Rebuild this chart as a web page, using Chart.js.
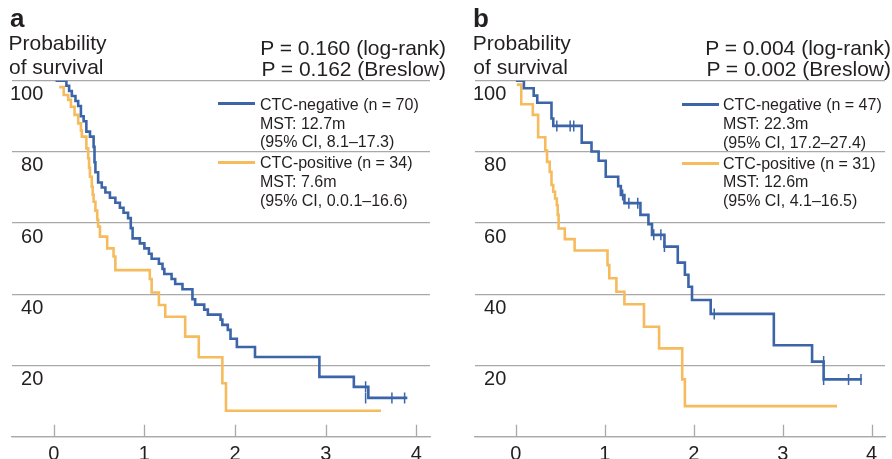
<!DOCTYPE html>
<html>
<head>
<meta charset="utf-8">
<script src="https://cdn.jsdelivr.net/npm/chart.js@4.4.1/dist/chart.umd.min.js"></script>
<style>
html,body{margin:0;padding:0;width:892px;height:459px;overflow:hidden;background:#fff;}
body{font-family:"Liberation Sans",Arial,Helvetica,sans-serif;color:#231f20;}
.panel{position:absolute;top:0;height:459px;}
#pa{left:0;width:446px;}
#pb{left:463px;width:429px;}
.panel canvas{position:absolute;left:0;top:0;}
.t{position:absolute;white-space:nowrap;line-height:1;}
.lab{font-weight:bold;font-size:26px;}
.ylab{font-size:21px;}
.pv{font-size:21px;text-align:right;}
.leg{position:absolute;font-size:16px;line-height:18.7px;white-space:nowrap;}
.bar{position:absolute;height:2.6px;width:37px;}
</style>
</head>
<body>
<div id="pa" class="panel">
  <canvas id="ca" width="446" height="459"></canvas>
  <div class="t lab" style="left:10px;top:5px;">a</div>
  <div class="t ylab" style="left:8.5px;top:32.2px;">Probability</div>
  <div class="t ylab" style="left:9px;top:56.2px;">of survival</div>
  <div class="t pv" style="right:0px;top:37.2px;">P = 0.160 (log-rank)</div>
  <div class="t pv" style="right:0px;top:58.2px;">P = 0.162 (Breslow)</div>
  <div class="bar" style="left:218px;top:102px;background:#3b65a8;"></div>
  <div class="leg" style="left:260px;top:95.8px;">CTC-negative (n = 70)<br>MST: 12.7m<br>(95% CI, 8.1–17.3)</div>
  <div class="bar" style="left:218px;top:161.4px;background:#f6bb5c;"></div>
  <div class="leg" style="left:260px;top:154.1px;">CTC-positive (n = 34)<br>MST: 7.6m<br>(95% CI, 0.0.1–16.6)</div>
</div>
<div id="pb" class="panel">
  <canvas id="cb" width="429" height="459"></canvas>
  <div class="t lab" style="left:10px;top:5px;">b</div>
  <div class="t ylab" style="left:9.8px;top:32.2px;">Probability</div>
  <div class="t ylab" style="left:10.3px;top:56.2px;">of survival</div>
  <div class="t pv" style="right:1px;top:37.2px;">P = 0.004 (log-rank)</div>
  <div class="t pv" style="right:1px;top:58.2px;">P = 0.002 (Breslow)</div>
  <div class="bar" style="left:219px;top:103px;background:#3b65a8;"></div>
  <div class="leg" style="left:260px;top:96.2px;">CTC-negative (n = 47)<br>MST: 22.3m<br>(95% CI, 17.2–27.4)</div>
  <div class="bar" style="left:219px;top:162px;background:#f6bb5c;"></div>
  <div class="leg" style="left:260px;top:154.5px;">CTC-positive (n = 31)<br>MST: 12.6m<br>(95% CI, 4.1–16.5)</div>
</div>
<script>
// ---- tick labels ----
const xTicks = [0, 1, 2, 3, 4];
const yTicks = [0, 20, 40, 60, 80, 100];

// ---- panel a: CTC-negative (n = 70) ----
const aNegTime = [0.02,0.14,0.17,0.20,0.24,0.27,0.30,0.33,0.36,0.40,0.44,0.45,0.46,0.49,0.53,0.57,0.62,0.68,0.73,0.77,0.82,0.85,0.87,0.95,1.00,1.05,1.08,1.16,1.20,1.22,1.30,1.34,1.42,1.53,1.56,1.66,1.70,1.84,1.86,1.92,1.95,2.02,2.22,2.93,3.31,3.47,3.90];
const aNegSurv = [100,98.6,97.1,95.7,94.3,92.9,90.0,88.6,85.7,84.3,81.4,77.1,74.3,71.4,70.0,68.6,67.1,65.7,64.3,62.9,61.4,58.6,55.7,54.3,52.9,51.4,50.0,48.6,47.1,45.7,44.3,42.9,41.4,38.6,37.1,35.7,34.3,32.9,31.4,30.0,27.5,25.2,22.4,16.8,14.0,10.9,10.9];
const aNegCensTime = [3.44, 3.44, 3.73, 3.87];
const aNegCensSurv = [14.0, 10.9, 10.9, 10.9];
// ---- panel a: CTC-positive (n = 34) ----
const aPosTime = [0.06,0.11,0.16,0.19,0.23,0.27,0.30,0.31,0.36,0.38,0.39,0.40,0.42,0.43,0.44,0.46,0.48,0.49,0.51,0.59,0.66,0.68,1.06,1.08,1.16,1.23,1.45,1.60,1.86,1.90,3.61];
const aPosSurv = [98.2,96.0,94.6,92.7,90.4,88.0,86.0,84.3,81.0,78.2,75.5,73.0,70.2,68.0,66.0,63.5,61.0,59.0,56.2,52.9,50.6,46.8,44.3,40.5,37.0,33.7,28.1,22.3,15.0,7.3,7.3];

// ---- panel b: CTC-negative (n = 47) ----
const bNegTime = [0.00,0.09,0.20,0.24,0.40,0.42,0.74,0.85,0.93,1.01,1.15,1.18,1.22,1.40,1.49,1.53,1.67,1.82,1.90,1.94,1.98,2.19,2.90,3.33,3.46,3.89];
const bNegSurv = [100,97.9,95.8,93.8,89.4,87.3,82.6,80.1,77.5,73.0,70.4,67.9,65.6,62.3,59.7,56.7,53.4,48.9,45.5,42.1,38.4,34.5,25.7,21.1,16.1,16.1];
const bNegCensTime = [0.46,0.61,0.65,1.20,1.27,1.37,1.55,1.63,1.67,2.23,3.46,3.46,3.74,3.88];
const bNegCensSurv = [87.3,87.3,87.3,67.9,65.6,65.6,56.7,56.7,53.4,34.5,21.1,16.1,16.1,16.1];
// ---- panel b: CTC-positive (n = 31) ----
const bPosTime = [0.01,0.06,0.19,0.25,0.33,0.35,0.38,0.40,0.42,0.44,0.46,0.47,0.48,0.55,0.66,1.03,1.05,1.13,1.22,1.44,1.61,1.87,1.90,3.61];
const bPosSurv = [98.9,93.4,90.4,84.1,80.4,77.2,74.4,70.7,68.8,66.9,65.0,62.3,58.5,55.5,52.3,48.2,44.5,40.7,37.2,30.9,24.8,16.1,8.6,8.6];

const BLUE = '#3b65a8';
const ORANGE = '#f6bb5c';
const GRID = '#a9a9a9';
const TXT = '#231f20';
const FONT = '"Liberation Sans", Arial, Helvetica, sans-serif';

const toPts = (t, s) => t.map((v, i) => ({ x: v, y: s[i] }));

const tickMarks = {
  id: 'tickMarks',
  beforeDatasetsDraw(chart) {
    const { ctx, scales: { x }, chartArea } = chart;
    ctx.save();
    ctx.strokeStyle = GRID;
    ctx.lineWidth = 1.3;
    x.ticks.forEach(t => {
      const px = Math.round(x.getPixelForValue(t.value)) + 0.5;
      ctx.beginPath();
      ctx.moveTo(px, chartArea.bottom);
      ctx.lineTo(px, chartArea.bottom - 12);
      ctx.stroke();
    });
    ctx.restore();
  }
};

function makeChart(id, negT, negS, posT, posS, censT, censS, padRight) {
  return new Chart(document.getElementById(id), {
    type: 'line',
    data: {
      datasets: [
        { label: 'censored', data: toPts(censT, censS), showLine: false,
          pointStyle: 'line', rotation: 90, pointRadius: 5.5, pointHoverRadius: 5.5,
          pointBorderColor: BLUE, pointBorderWidth: 1.5, borderColor: BLUE },
        { label: 'CTC-negative', data: toPts(negT, negS), borderColor: BLUE, borderWidth: 2.6,
          stepped: 'before', pointRadius: 0, fill: false },
        { label: 'CTC-positive', data: toPts(posT, posS), borderColor: ORANGE, borderWidth: 2.6,
          stepped: 'before', pointRadius: 0, fill: false }
      ]
    },
    options: {
      responsive: false,
      animation: false,
      events: [],
      layout: { padding: { left: 12, right: padRight, top: 80.7, bottom: 0 } },
      plugins: { legend: { display: false }, tooltip: { enabled: false } },
      scales: {
        x: {
          type: 'linear', min: -0.46, max: 4.15,
          afterBuildTicks: s => { s.ticks = xTicks.map(v => ({ value: v })); },
          afterFit: s => { s.height = 22.3; },
          grid: { display: false },
          border: { display: true, color: GRID, width: 1.3 },
          ticks: { font: { size: 20, family: FONT }, color: TXT, padding: -2, maxRotation: 0, autoSkip: false,
                   callback: v => String(v) }
        },
        y: {
          type: 'linear', min: 0, max: 100,
          afterBuildTicks: s => { s.ticks = yTicks.map(v => ({ value: v })); },
          afterFit: s => { s.width = 0; },
          border: { display: false },
          grid: { color: GRID, lineWidth: 1.3, drawTicks: false },
          ticks: { mirror: true, crossAlign: 'far', padding: -2, labelOffset: 14,
                   font: { size: 20, family: FONT }, color: TXT,
                   callback: v => (v === 0 ? '' : String(v)) }
        }
      }
    },
    plugins: [tickMarks]
  });
}

makeChart('ca', aNegTime, aNegSurv, aPosTime, aPosSurv, aNegCensTime, aNegCensSurv, 16);
makeChart('cb', bNegTime, bNegSurv, bPosTime, bPosSurv, bNegCensTime, bNegCensSurv, 0);
</script>
</body>
</html>
